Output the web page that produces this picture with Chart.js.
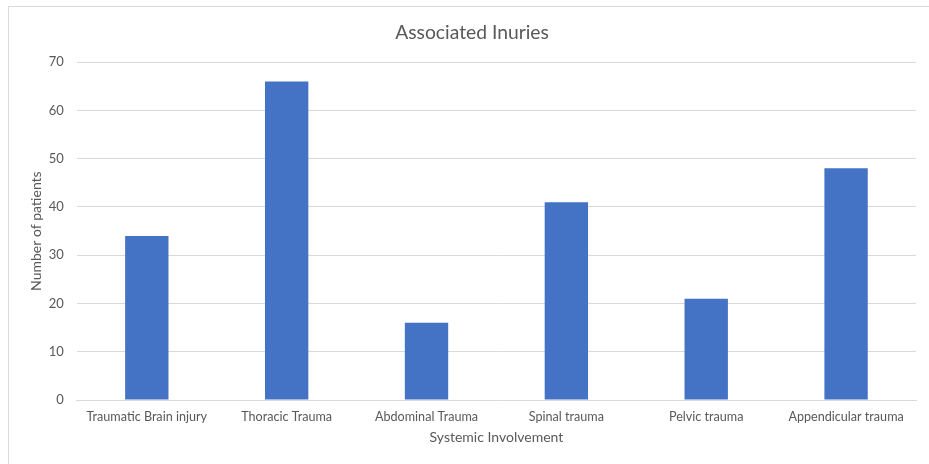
<!DOCTYPE html>
<html>
<head>
<meta charset="utf-8">
<script src="https://cdn.jsdelivr.net/npm/chart.js@4.4.0/dist/chart.umd.min.js"></script>
<style>
  html, body { margin: 0; padding: 0; background: #fff; }
  #wrap { position: absolute; left: 0; top: 0; width: 929px; height: 464px; overflow: hidden; }
  #frame { position: absolute; left: 8px; top: 6px; width: 1000px; height: 1000px; border: 1px solid #d9d9d9; box-sizing: border-box; }
  canvas { position: absolute; left: 0; top: 0; }
</style>
</head>
<body>
<div id="wrap">
  <div id="frame"></div>
  <canvas id="chart" width="929" height="464"></canvas>
</div>
<script>
// chart data
const categories = ['Traumatic Brain injury', 'Thoracic Trauma', 'Abdominal Trauma', 'Spinal trauma', 'Pelvic trauma', 'Appendicular trauma'];
const patients = [34, 66, 16, 41, 21, 48];
const yTicks = [0, 10, 20, 30, 40, 50, 60, 70];

const FONT = 'Lato, "Open Sans", sans-serif';
const TEXT = '#595959';
const GRID = '#d9d9d9';

new Chart(document.getElementById('chart'), {
    type: 'bar',
    data: {
        labels: categories,
        datasets: [{
            label: 'Number of patients',
            data: patients,
            backgroundColor: '#4472c4',
            borderWidth: 0,
            categoryPercentage: 1,
            barPercentage: 0.31
        }]
    },
    options: {
        responsive: false,
        animation: false,
        layout: { padding: { left: 28, right: 13, top: 9, bottom: 18 } },
        plugins: {
            legend: { display: false },
            tooltip: { enabled: false },
            title: {
                display: true,
                text: 'Associated Inuries',
                color: TEXT,
                font: { family: FONT, size: 19.3, weight: 'normal' },
                padding: { top: 12, bottom: 18 }
            }
        },
        scales: {
            x: {
                grid: { display: false, drawTicks: false },
                border: { display: true, color: GRID, width: 1 },
                ticks: { color: TEXT, font: { family: FONT, size: 12.6 }, padding: 9, maxRotation: 0, autoSkip: false },
                title: { display: true, text: 'Systemic Involvement', color: TEXT, font: { family: FONT, size: 14 }, padding: { top: -4, bottom: 0 } }
            },
            y: {
                min: yTicks[0],
                max: yTicks[yTicks.length - 1],
                afterBuildTicks: (axis) => { axis.ticks = yTicks.map(v => ({ value: v })); },
                grid: { color: GRID, drawTicks: false },
                border: { display: false },
                ticks: { color: TEXT, font: { family: FONT, size: 13 }, padding: 13 },
                title: { display: true, text: 'Number of patients', color: TEXT, font: { family: FONT, size: 14 }, padding: { top: 0, bottom: -9 } }
            }
        }
    }
});
</script>
</body>
</html>
